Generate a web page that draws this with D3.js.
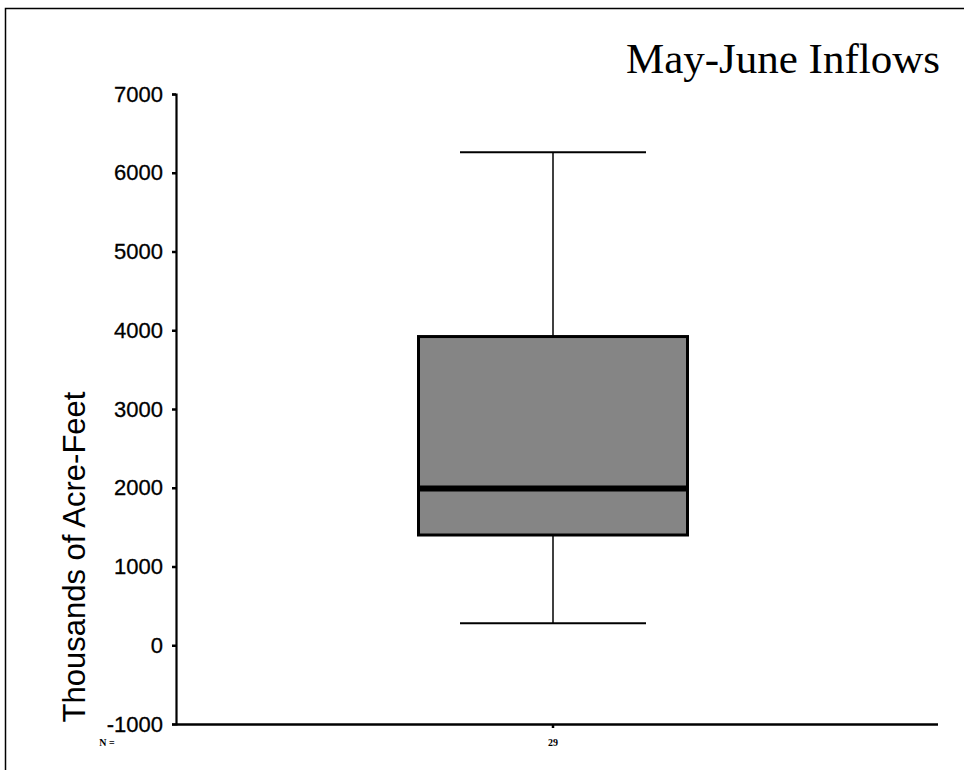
<!DOCTYPE html>
<html>
<head>
<meta charset="utf-8">
<script src="https://cdn.jsdelivr.net/npm/d3@7"></script>
<style>
body{margin:0;background:#fff}
svg{display:block}
</style>
</head>
<body>
<svg></svg>
<script>
var screen = {width:964,height:770}
// data
var groups = ["29"]
var whiskerLow = [280]
var q1 = [1400]
var median = [1990]
var q3 = [3920]
var whiskerHigh = [6260]
var yTicks = [-1000,0,1000,2000,3000,4000,5000,6000,7000]

var svg = d3.select("svg")
    .attr("width",screen.width)
    .attr("height",screen.height)

// frame
svg.append("path")
    .attr("d","M5.5,770 V8.5 H964")
    .attr("fill","none")
    .attr("stroke","#000")
    .attr("stroke-width",1.5)

var yScale = d3.scaleLinear()
    .domain([-1000,7000])
    .range([724,94])

var xScale = d3.scaleBand()
    .domain(groups)
    .range([176,930])

var yAxis = d3.axisLeft(yScale)
    .tickValues(yTicks)
    .tickSize(4)
    .tickPadding(9)
    .tickFormat(function(d){return String(d)}) // plain hyphen minus like the original

var gy = svg.append("g")
    .attr("transform","translate(176,0)")
    .call(yAxis)
gy.select(".domain").attr("stroke-width",2.2)
gy.selectAll(".tick line").attr("stroke-width",2.5)
gy.selectAll("text")
    .attr("font-family","Liberation Sans, Arial, sans-serif")
    .attr("font-size",22)
    .attr("fill","#000")
    .attr("stroke","#000")
    .attr("stroke-width",0.3)

// x axis line
svg.append("line")
    .attr("x1",176).attr("x2",938)
    .attr("y1",724.5).attr("y2",724.5)
    .attr("stroke","#000")
    .attr("stroke-width",2.5)

var boxW = 269
var capW = 186

var g = svg.selectAll(".box")
    .data(groups)
    .enter()
    .append("g")
    .attr("class","box")

g.each(function(d,i)
{
    var cx = xScale(d) + xScale.bandwidth()/2
    var sel = d3.select(this)
    // whisker stems
    sel.append("line")
        .attr("x1",cx).attr("x2",cx)
        .attr("y1",yScale(whiskerHigh[i])).attr("y2",yScale(q3[i]))
        .attr("stroke","#000").attr("stroke-width",1.5)
    sel.append("line")
        .attr("x1",cx).attr("x2",cx)
        .attr("y1",yScale(q1[i])).attr("y2",yScale(whiskerLow[i]))
        .attr("stroke","#000").attr("stroke-width",1.5)
    // caps
    sel.append("line")
        .attr("x1",cx-capW/2).attr("x2",cx+capW/2)
        .attr("y1",yScale(whiskerHigh[i])).attr("y2",yScale(whiskerHigh[i]))
        .attr("stroke","#000").attr("stroke-width",2)
    sel.append("line")
        .attr("x1",cx-capW/2).attr("x2",cx+capW/2)
        .attr("y1",yScale(whiskerLow[i])).attr("y2",yScale(whiskerLow[i]))
        .attr("stroke","#000").attr("stroke-width",2)
    // box
    sel.append("rect")
        .attr("x",cx-boxW/2)
        .attr("y",yScale(q3[i]))
        .attr("width",boxW)
        .attr("height",yScale(q1[i])-yScale(q3[i]))
        .attr("fill","#858585")
        .attr("stroke","#000")
        .attr("stroke-width",3)
    // median
    sel.append("line")
        .attr("x1",cx-boxW/2).attr("x2",cx+boxW/2)
        .attr("y1",yScale(median[i])).attr("y2",yScale(median[i]))
        .attr("stroke","#000").attr("stroke-width",6)
    // x tick + N label
    sel.append("line")
        .attr("x1",cx).attr("x2",cx)
        .attr("y1",724).attr("y2",728)
        .attr("stroke","#000").attr("stroke-width",2.5)
    sel.append("text")
        .attr("x",cx).attr("y",746)
        .attr("text-anchor","middle")
        .attr("font-family","Liberation Serif, Times New Roman, serif")
        .attr("font-size",10)
        .attr("font-weight","bold")
        .text(d)
})

svg.append("text")
    .attr("x",107).attr("y",746)
    .attr("text-anchor","middle")
    .attr("font-family","Liberation Serif, Times New Roman, serif")
    .attr("font-size",10)
    .attr("font-weight","bold")
    .text("N =")

// title
svg.append("text")
    .attr("x",940).attr("y",73)
    .attr("text-anchor","end")
    .attr("font-family","Liberation Serif, Times New Roman, serif")
    .attr("font-size",43)
    .text("May-June Inflows")

// y axis title
svg.append("text")
    .attr("transform","translate(85,557) rotate(-90)")
    .attr("text-anchor","middle")
    .attr("font-family","Liberation Sans, Arial, sans-serif")
    .attr("font-size",31)
    .text("Thousands of Acre-Feet")
</script>
</body>
</html>
